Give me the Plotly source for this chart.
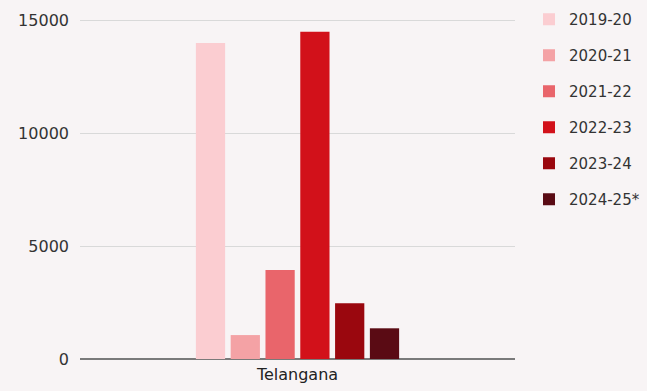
import plotly.graph_objects as go

categories = ["Telangana"]
years = ["2019-20", "2020-21", "2021-22", "2022-23", "2023-24", "2024-25*"]
values = [14000, 1060, 3940, 14500, 2470, 1360]
colors = ["#fbcdd1", "#f4a2a5", "#e9656b", "#d2111a", "#9a070e", "#5a0b14"]
ytick_vals = [0, 5000, 10000, 15000]

fig = go.Figure()
for i, (yr, v, c) in enumerate(zip(years, values, colors)):
    fig.add_trace(go.Bar(
        x=categories, y=[v], name=yr, marker=dict(color=c, line=dict(width=0)),
        legendgroup=f"g{i}",
    ))

bg = "#f8f4f5"
font_fam = "DejaVu Sans, Verdana, sans-serif"
fig.update_layout(
    width=647, height=391,
    margin=dict(l=80, r=132, t=17, b=32, autoexpand=False),
    paper_bgcolor=bg, plot_bgcolor=bg,
    barmode="group", bargap=0.52, bargroupgap=0.16,
    font=dict(family=font_fam, size=15, color="#333333"),
    legend=dict(
        x=529 / 647, xref="container", xanchor="left",
        y=1 - 3 / 391, yref="container", yanchor="top",
        traceorder="grouped", tracegroupgap=13.5, maxheight=500,
        font=dict(family=font_fam, size=15, color="#333333"), bgcolor="rgba(0,0,0,0)",
    ),
    xaxis=dict(showgrid=False, tickfont=dict(family=font_fam, size=16, color="#222222"),
               ticks="", ticklabelstandoff=4, automargin=False),
    yaxis=dict(
        range=[0, 15150], tickvals=ytick_vals, tickformat="d", automargin=False,
        showgrid=True, gridcolor="#d9d9d9", gridwidth=1,
        zeroline=True, zerolinecolor="#7a7a7a", zerolinewidth=1.5,
        ticklabelstandoff=10, tickfont=dict(family=font_fam, size=16, color="#333333"),
    ),
)

fig.write_html(
    "out.html",
    config={"displayModeBar": False},
    post_script="document.body.style.margin='0';document.body.style.background='%s';" % bg,
)
